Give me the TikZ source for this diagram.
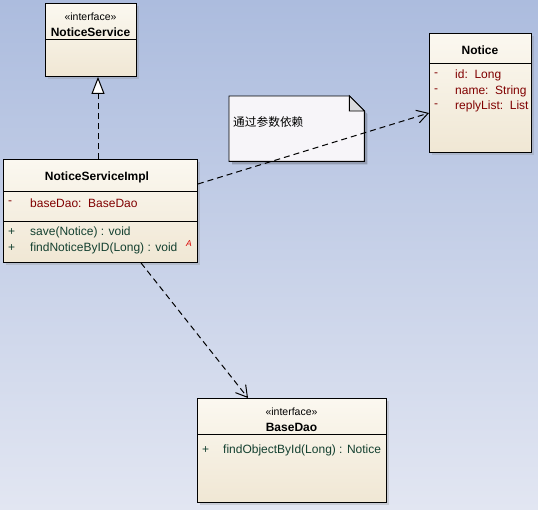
\documentclass[tikz,border=0pt]{standalone}
\usepackage{fontspec}
\setmainfont{Liberation Sans}
\newfontfamily\cjk{Noto Sans CJK SC}
\usetikzlibrary{arrows.meta,calc,shadows}
\definecolor{bgtop}{RGB}{172,188,222}
\definecolor{bgbot}{RGB}{226,230,242}
\definecolor{boxtop}{RGB}{251,248,240}
\definecolor{boxbot}{RGB}{240,231,212}
\definecolor{notefill}{RGB}{247,245,249}
\definecolor{foldfill}{RGB}{218,218,222}
\definecolor{attrcol}{RGB}{128,0,0}
\definecolor{opcol}{RGB}{20,64,48}
\tikzset{
  umlbox/.style={draw=black, line width=0.9pt, top color=boxtop, bottom color=boxbot,
    anchor=north west, inner sep=0pt,
    drop shadow={shadow xshift=2.5pt, shadow yshift=-2.5pt, opacity=0.25}},
  sep/.style={draw=black, line width=0.9pt},
  stereo/.style={font=\fontsize{10.5}{12}\selectfont, inner sep=0pt},
  cname/.style={font=\fontsize{12}{14}\selectfont\bfseries, inner sep=0pt},
  attr/.style={font=\fontsize{12}{14}\selectfont, text=attrcol, anchor=west, inner sep=0pt},
  op/.style={font=\fontsize{12}{14}\selectfont, text=opcol, anchor=west, inner sep=0pt},
  dep/.style={line width=1pt, dash pattern=on 6pt off 4pt,
    -{Straight Barb[length=11pt,width=13pt,line width=1pt]}},
  real/.style={line width=1pt, dash pattern=on 6pt off 4pt,
    -{Triangle[open,length=17pt,width=13pt,line width=1pt,fill=white]}}
}
\begin{document}
\begin{tikzpicture}[x=1pt,y=-1pt]
\shade[top color=bgtop,bottom color=bgbot] (0,0) rectangle (538,509);
\useasboundingbox (0,0) rectangle (538,509);

% NoticeService
\node[umlbox, minimum width=91pt, minimum height=73pt] (ns) at (45,3) {};
\draw[sep] (45,39) -- (136,39);
\node[stereo] (nsst) at (90.5,17) {«interface»};
\node[cname] (nsname) at (90.5,32) {NoticeService};

% NoticeServiceImpl
\node[umlbox, minimum width=194pt, minimum height=103pt] (impl) at (3,159) {};
\draw[sep] (3,191) -- (197,191);
\draw[sep] (3,221) -- (197,221);
\node[cname] (implname) at (97,177) {NoticeServiceImpl};
\node[attr] (a1m) at (8,203) {-};
\node[attr] (a1) at (30,203) {baseDao:\ \ BaseDao};
\node[op] (o1p) at (8,232) {+};
\node[op] (o1) at (30,232) {save(Notice) : void};
\node[op] (o2p) at (8,248) {+};
\node[op] (o2) at (30,248) {findNoticeByID(Long) : void};
\node[font=\fontsize{8.5}{9}\selectfont\itshape, text=red!85!black, inner sep=0pt] (abs) at (189,244) {A};

% Notice
\node[umlbox, minimum width=102pt, minimum height=119pt] (notice) at (429,33) {};
\draw[sep] (429,63) -- (531,63);
\node[cname] (noticename) at (480,50) {Notice};
\node[attr] (n1m) at (434,75) {-};
\node[attr] (n1) at (455,75) {id:\ \ Long};
\node[attr] (n2m) at (434,91) {-};
\node[attr] (n2) at (455,91) {name:\ \ String};
\node[attr] (n3m) at (434,106) {-};
\node[attr] (n3) at (455,106) {replyList:\ \ List};

% BaseDao
\node[umlbox, minimum width=189pt, minimum height=104pt] (dao) at (197,398) {};
\draw[sep] (197,434) -- (386,434);
\node[stereo] (daost) at (291.5,412) {«interface»};
\node[cname] (daoname) at (291.5,427) {BaseDao};
\node[op] (d1p) at (202,450) {+};
\node[op] (d1) at (223,450) {findObjectById(Long) : Notice};

% Note
\node[anchor=north west, minimum width=135pt, minimum height=65pt, inner sep=0pt] (note) at (229,96) {};
\fill[black, opacity=0.22] ($(note.north west)+(3,3)$) -- ($(note.north east)+(-12,3)$) -- ($(note.north east)+(3,18)$) -- ($(note.south east)+(3,3)$) -- ($(note.south west)+(3,3)$) -- cycle;
\draw[line width=0.9pt, fill=notefill] (note.north west) -- ($(note.north east)+(-15,0)$) -- ($(note.north east)+(0,15)$) -- (note.south east) -- (note.south west) -- cycle;
\draw[line width=0.9pt, fill=foldfill] ($(note.north east)+(-15,0)$) -- ($(note.north east)+(-15,15)$) -- ($(note.north east)+(0,15)$) -- cycle;
\node[anchor=west, inner sep=0pt, font=\cjk\fontsize{11.7}{13}\selectfont] (notetext) at (233,122) {通过参数依赖};

% Connectors
\draw[real] ([xshift=95pt]impl.north west) -- ([xshift=53pt]ns.south west);
\draw[dep] ([yshift=-25pt]impl.north east) -- ([yshift=-80pt]notice.north west);
\draw[dep] ([xshift=138pt]impl.south west) -- ([xshift=51pt]dao.north west);
\end{tikzpicture}
\end{document}
